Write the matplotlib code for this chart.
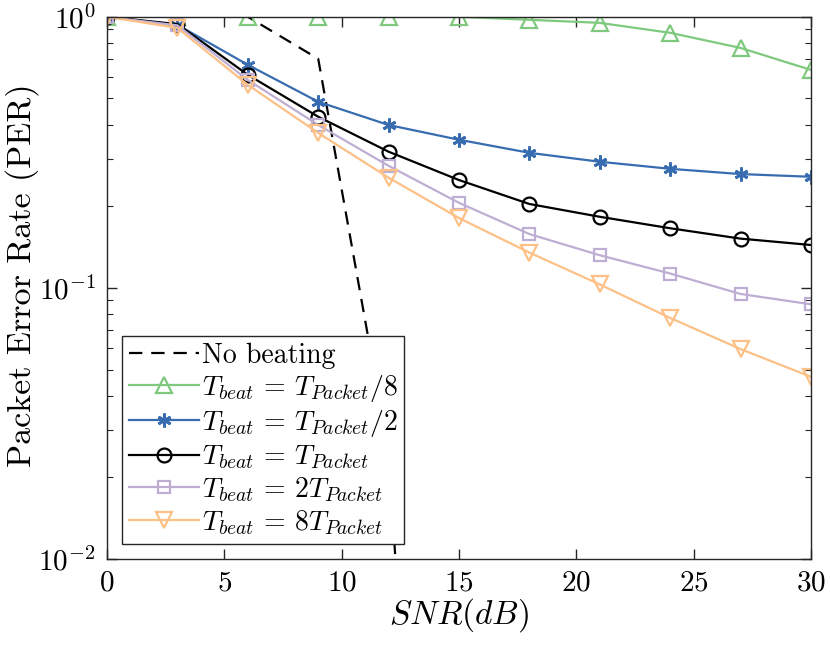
import numpy as np
import matplotlib
matplotlib.use("Agg")
import matplotlib.pyplot as plt
from matplotlib.ticker import LogLocator, NullFormatter

plt.rcParams['font.family'] = 'serif'
plt.rcParams['font.serif'] = ['cmr10']
plt.rcParams['mathtext.fontset'] = 'cm'
plt.rcParams['axes.formatter.use_mathtext'] = True

# SNR points (dB)
snr = [0, 3, 6, 9, 12, 15, 18, 21, 24, 27, 30]
snr_nobeat = [0, 3, 6, 9, 12, 15]

# packet error rates
per_nobeat = [1.0, 1.0, 1.0, 0.70, 0.025, 2e-6]
per_t8 = [1.0, 1.0, 1.0, 1.0, 1.0, 1.0, 0.975, 0.95, 0.873, 0.768, 0.637]
per_t2 = [1.0, 0.934, 0.665, 0.486, 0.399, 0.352, 0.315, 0.292, 0.275, 0.263, 0.257]
per_t1 = [1.0, 0.94, 0.611, 0.428, 0.318, 0.250, 0.204, 0.183, 0.166, 0.152, 0.144]
per_2t = [1.0, 0.93, 0.585, 0.399, 0.282, 0.206, 0.158, 0.132, 0.113, 0.095, 0.087]
per_8t = [1.0, 0.91, 0.561, 0.373, 0.255, 0.181, 0.135, 0.103, 0.0775, 0.0595, 0.047]

labels = ['No beating',
          r'$T_{beat}\,=\,T_{Packet}/8$',
          r'$T_{beat}\,=\,T_{Packet}/2$',
          r'$T_{beat}\,=\,T_{Packet}$',
          r'$T_{beat}\,=\,2T_{Packet}$',
          r'$T_{beat}\,=\,8T_{Packet}$']

fig = plt.figure(figsize=(8.3, 6.47), dpi=100)
ax = fig.add_axes([0.129, 0.136, 0.848, 0.838])

lw = 1.6
ax.plot(snr_nobeat, per_nobeat, color='black', lw=lw, ls='--', dashes=(6, 4), label=labels[0])
ax.plot(snr, per_t8, color='#7fc97f', lw=lw, marker='^', ms=11, mfc='none', mew=1.6, label=labels[1])
ax.plot(snr, per_t2, color='#386cb0', lw=lw, marker=(6, 2, 0), ms=10, mew=2.0, label=labels[2])
ax.plot(snr, per_t1, color='black', lw=lw, marker='o', ms=10, mfc='none', mew=1.6, label=labels[3])
ax.plot(snr, per_2t, color='#beaed4', lw=lw, marker='s', ms=8, mfc='none', mew=1.6, label=labels[4])
ax.plot(snr, per_8t, color='#fdc086', lw=lw, marker='v', ms=11, mfc='none', mew=1.6, label=labels[5])

ax.set_yscale('log')
ax.set_xlim(0, 30)
ax.set_ylim(1e-2, 1)
ax.set_xticks([0, 5, 10, 15, 20, 25, 30])
ax.yaxis.set_minor_locator(LogLocator(base=10, subs=np.arange(2, 10)))
ax.yaxis.set_minor_formatter(NullFormatter())

spine_c = '#262626'
for s in ax.spines.values():
    s.set_color(spine_c)
    s.set_linewidth(1.0)
ax.tick_params(which='both', direction='in', top=True, right=True, colors=spine_c,
               labelcolor='black', labelsize=21)
ax.tick_params(which='major', length=7, width=1.0, pad=8)
ax.tick_params(which='minor', length=4, width=0.8)
ax.tick_params(axis='x', which='minor', bottom=False, top=False)

ax.set_xlabel(r'$SNR(dB)$', fontsize=24, labelpad=0)
ax.set_ylabel('Packet Error Rate (PER)', fontsize=24.5)
ax.yaxis.set_label_coords(-0.097, 0.524)

leg = ax.legend(loc='lower left', fontsize=20, frameon=True, fancybox=False,
                framealpha=1, edgecolor='#262626', handlelength=2.5,
                labelspacing=0.15, borderpad=0.25, handletextpad=0.1,
                borderaxespad=0.55)
leg.get_frame().set_linewidth(1.0)

fig.savefig('out.png', dpi=100)
